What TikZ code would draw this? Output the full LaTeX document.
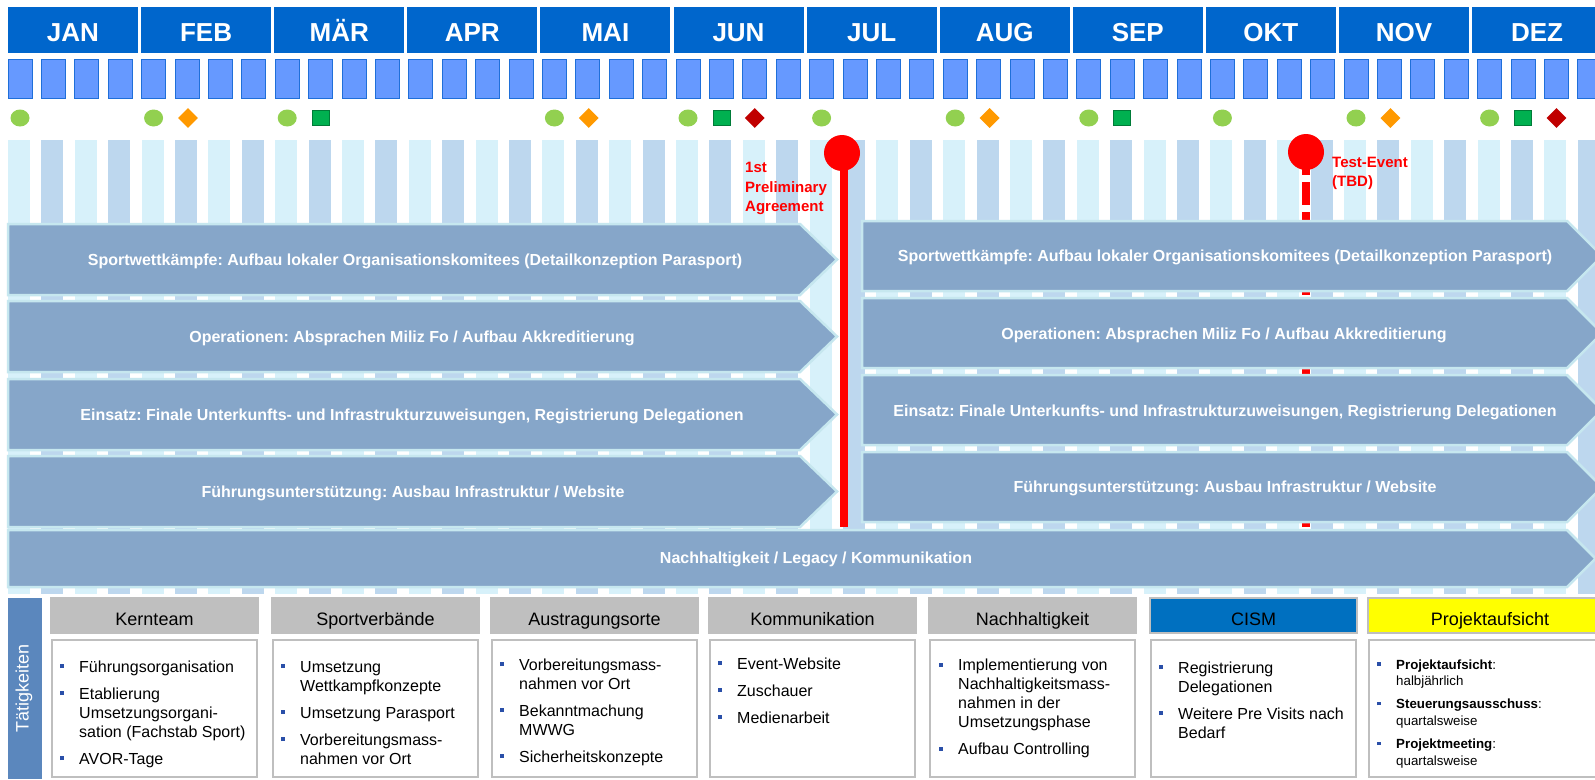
\documentclass[tikz,border=0pt]{standalone}
\usepackage{fontspec}
\setmainfont{Liberation Sans}
\usetikzlibrary{shapes.geometric}
\definecolor{monthblue}{HTML}{0066CC}
\definecolor{weekfill}{HTML}{6699FF}
\definecolor{weekline}{HTML}{1F6FD9}
\definecolor{stripeA}{HTML}{D7F1FA}
\definecolor{stripeB}{HTML}{BDD7EE}
\definecolor{arrowfill}{HTML}{86A6C9}
\definecolor{arrowline}{HTML}{C6E7EF}
\definecolor{hdrgray}{HTML}{BFBFBF}
\definecolor{cismblue}{HTML}{0070C0}
\definecolor{projyellow}{HTML}{FFFF00}
\definecolor{taetblue}{HTML}{5B87BD}
\definecolor{bulletblue}{HTML}{2A4FA8}
\definecolor{mgreen}{HTML}{92D050}
\definecolor{morange}{HTML}{FF9900}
\definecolor{msquare}{HTML}{00B050}
\definecolor{mred}{HTML}{C00000}
\definecolor{polered}{HTML}{FF0000}
\frenchspacing

\newcommand\bsq{\textcolor{bulletblue}{\rule[4pt]{4pt}{4pt}}}
\newcommand\bsqs{\textcolor{bulletblue}{\rule[3.3pt]{3.5pt}{3.5pt}}}
\newcommand\bitm[1]{\par\hangindent=19pt\hangafter=1\noindent\makebox[19pt][l]{\bsq}#1\par}
\newcommand\bitms[1]{\par\hangindent=19pt\hangafter=1\noindent\makebox[19pt][l]{\bsqs}#1\par}
\newcommand\blist[1]{\parbox[t]{215pt}{\fontsize{16}{19}\selectfont\setlength\parskip{8pt}\rightskip=0pt plus 1fil #1}}
\newcommand\blists[1]{\parbox[t]{215pt}{\fontsize{13.3}{16.7}\selectfont\setlength\parskip{6.3pt}\rightskip=0pt plus 1fil #1}}

\begin{document}
\begin{tikzpicture}[x=1pt,y=-1pt,
  monthtxt/.style={text=white,font=\fontsize{26}{30}\selectfont\bfseries,anchor=base,inner sep=0},
  weekbox/.style={fill=weekfill,draw=weekline,line width=1pt},
  arrowshape/.style={fill=arrowfill,draw=arrowline,line width=2.5pt},
  arrowtxt/.style={text=white,font=\fontsize{16}{18}\selectfont\bfseries,anchor=base,inner sep=0},
  gcirc/.style={ellipse,fill=mgreen,minimum width=19pt,minimum height=17pt,inner sep=0},
  odia/.style={diamond,fill=morange,minimum width=20pt,minimum height=20pt,inner sep=0},
  rdia/.style={diamond,fill=mred,minimum width=20pt,minimum height=20pt,inner sep=0},
  gsq/.style={rectangle,fill=msquare,draw=msquare!70!black,line width=0.6pt,minimum width=17pt,minimum height=15pt,inner sep=0},
  hdr/.style={draw=hdrgray,line width=2pt},
  hdrtxt/.style={font=\fontsize{18}{20}\selectfont,anchor=base,inner sep=0},
  cbox/.style={draw=hdrgray,line width=2pt,fill=white},
  pole/.style={draw=polered,line width=8pt},
  poleball/.style={circle,fill=polered,minimum size=36pt,inner sep=0},
  polelbl/.style={text=polered,anchor=base west,inner sep=0},
  blk/.style={anchor=base west,inner sep=0}
]
\useasboundingbox (0,0) rectangle (1595,779);
\clip (0,0) rectangle (1595,779);
\fill[white] (0,0) rectangle (1595,779);

% background stripes
\foreach \k in {0,2,...,46} \fill[stripeA] ({8+33.4*\k},140) rectangle ++(22,454);
\foreach \k in {1,3,...,47} \fill[stripeB] ({8+33.4*\k},140) rectangle ++(22,454);

% months
\foreach \m [count=\i from 0] in {JAN,FEB,MÄR,APR,MAI,JUN,JUL,AUG,SEP,OKT,NOV,DEZ}{
  \fill[monthblue] ({8+133.1*\i},7) rectangle ++(130,46);
  \node[monthtxt] (m\i) at ({73+133.1*\i},41.5) {\m};
}
% weeks
\foreach \k in {0,...,47} \filldraw[weekbox] ({8+33.4*\k},59) rectangle ++(24,39);

% markers
\foreach \k in {0,4,8,16,20,24,28,32,36,40,44} \node[gcirc] (c\k) at ({20+33.4*\k},118) {};
\foreach \k in {5,17,29,41} \node[odia] (o\k) at ({21+33.4*\k},118) {};
\foreach \k in {9,21,33,45} \node[gsq] (s\k) at ({20+33.4*\k},118) {};
\foreach \k in {22,46} \node[rdia] (r\k) at ({20+33.4*\k},118) {};

% test-event pole (dashed, behind right arrows)
\coordinate (p2top) at (1306,152);
\coordinate (p2bot) at (1306,527);
\draw[pole,dash pattern=on 23pt off 7pt] (p2top) -- (p2bot);

% left arrows
\foreach \t in {224,301,379,456}
  \filldraw[arrowshape] (8,\t) -- (800,\t) -- (837,\t+35.5) -- (800,\t+71) -- (8,\t+71) -- cycle;
% right arrows
\foreach \t in {221,298,375,452}
  \filldraw[arrowshape] (862,\t) -- (1567,\t) -- (1602,\t+35) -- (1567,\t+70) -- (862,\t+70) -- cycle;
% full-width arrow
\filldraw[arrowshape] (8,530) -- (1567,530) -- (1595.5,558.5) -- (1567,587) -- (8,587) -- cycle;

% arrow texts
\node[arrowtxt] (l1) at (415,265) {Sportwettkämpfe: Aufbau lokaler Organisationskomitees (Detailkonzeption Parasport)};
\node[arrowtxt] (l2) at (412,342) {Operationen: Absprachen Miliz Fo / Aufbau Akkreditierung};
\node[arrowtxt] (l3) at (412,420) {Einsatz: Finale Unterkunfts- und Infrastrukturzuweisungen, Registrierung Delegationen};
\node[arrowtxt] (l4) at (413,497) {Führungsunterstützung: Ausbau Infrastruktur / Website};
\node[arrowtxt] (r1) at (1225,261.5) {Sportwettkämpfe: Aufbau lokaler Organisationskomitees (Detailkonzeption Parasport)};
\node[arrowtxt] (r2) at (1224,339) {Operationen: Absprachen Miliz Fo / Aufbau Akkreditierung};
\node[arrowtxt] (r3) at (1225,416) {Einsatz: Finale Unterkunfts- und Infrastrukturzuweisungen, Registrierung Delegationen};
\node[arrowtxt] (r4) at (1225,492.5) {Führungsunterstützung: Ausbau Infrastruktur / Website};
\node[arrowtxt] (n5) at (816,563) {Nachhaltigkeit / Legacy / Kommunikation};

% preliminary agreement pole
\coordinate (p1top) at (844,153);
\coordinate (p1bot) at (844,527);
\draw[pole] (p1top) -- (p1bot);
\node[poleball] (ball1) at (842,153) {};
\node[poleball] (ball2) at (1306,152) {};
\node[polelbl] (lbl1) at (745,172.5) {\parbox[t]{90pt}{\fontsize{15}{19.5}\selectfont\bfseries 1st\\Preliminary\\Agreement}};
\node[polelbl] (lbl2) at (1332,167.5) {\parbox[t]{90pt}{\fontsize{15}{19}\selectfont\bfseries Test-Event\\(TBD)}};

% bottom section
\fill[taetblue] (8,598) rectangle (42,779);
\node[rotate=90,text=white,font=\fontsize{18}{20}\selectfont,inner sep=0] (taet) at (24,688) {Tätigkeiten};

\foreach \c/\w/\nm/\fc [count=\j from 0] in {51/207/Kernteam/hdrgray,272/207/Sportverbände/hdrgray,491/207/Austragungsorte/hdrgray,709/207/Kommunikation/hdrgray,929/207/Nachhaltigkeit/hdrgray,1150/207/CISM/cismblue,1368/244/Projektaufsicht/projyellow}{
  \filldraw[hdr,fill=\fc] (\c,598) rectangle ++(\w,35);
  \node[hdrtxt] (h\j) at ({\c+\w/2},625.5) {\nm};
  \draw[cbox] ({\c+1},640) rectangle ++({\w-2},137);
}

\node[blk] (b0) at (60,672) {\blist{\bitm{Führungsorganisation}\bitm{Etablierung\\Umsetzungsorgani-\\sation (Fachstab Sport)}\bitm{AVOR-Tage}}};
\node[blk] (b1) at (281,672) {\blist{\bitm{Umsetzung\\Wettkampfkonzepte}\bitm{Umsetzung Parasport}\bitm{Vorbereitungsmass-\\nahmen vor Ort}}};
\node[blk] (b2) at (500,670) {\blist{\bitm{Vorbereitungsmass-\\nahmen vor Ort}\bitm{Bekanntmachung\\MWWG}\bitm{Sicherheitskonzepte}}};
\node[blk] (b3) at (718,669) {\blist{\bitm{Event-Website}\bitm{Zuschauer}\bitm{Medienarbeit}}};
\node[blk] (b4) at (939,670.5) {\blist{\bitm{Implementierung von\\Nachhaltigkeitsmass-\\nahmen in der\\Umsetzungsphase}\bitm{Aufbau Controlling}}};
\node[blk] (b5) at (1159,673) {\blist{\bitm{Registrierung\\Delegationen}\bitm{Weitere Pre Visits nach\\Bedarf}}};
\node[blk] (b6) at (1377,669) {\blists{\bitms{\textbf{Projektaufsicht}:\\halbjährlich}\bitms{\textbf{Steuerungsausschuss}:\\quartalsweise}\bitms{\textbf{Projektmeeting}:\\quartalsweise}}};
\end{tikzpicture}
\end{document}
